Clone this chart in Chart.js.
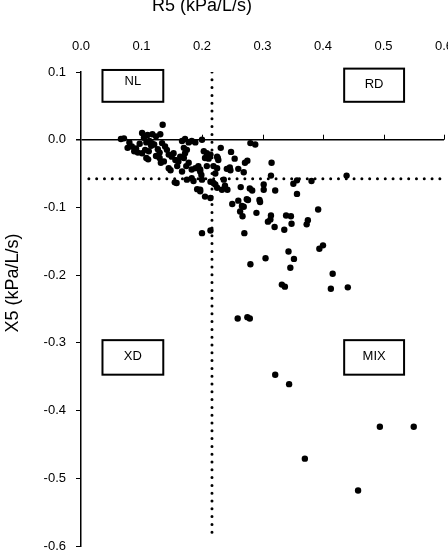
<!DOCTYPE html>
<html>
<head>
<meta charset="utf-8">
<title>R5 / X5</title>
<script src="https://cdn.jsdelivr.net/npm/chart.js@4.4.1/dist/chart.umd.min.js"></script>
<style>
  html, body { margin: 0; padding: 0; background: #fff; }
  #wrap { width: 448px; height: 550px; position: relative; }
</style>
</head>
<body>
<div id="wrap"><canvas id="scatterChart"></canvas></div>
<script>
// axis ticks
const xTicks = [0, 0.1, 0.2, 0.3, 0.4, 0.5, 0.6];
const yTicks = [0.1, 0, -0.1, -0.2, -0.3, -0.4, -0.5, -0.6];
const xTitle = "R5 (kPa/L/s)";
const yTitle = "X5 (kPa/L/s)";

// cut-off values (dotted lines)
const r5Cutoff = 0.2165;
const x5Cutoff = -0.0575;

// quadrant labels
const quadrantLabels = ["NL", "RD", "XD", "MIX"];

// each point: [R5, X5]
const subjects = [
  // R5 below cut-off
  [0.066, 0.001], [0.071, 0.002], [0.080, -0.004], [0.084, -0.010], [0.077, -0.012],
  [0.088, -0.017], [0.091, -0.013], [0.094, -0.019], [0.097, -0.006], [0.101, 0.010],
  [0.110, 0.007], [0.104, 0.003], [0.108, -0.004], [0.113, -0.002], [0.117, -0.005],
  [0.118, 0.008], [0.124, 0.005], [0.131, 0.008], [0.116, -0.009], [0.121, -0.007],
  [0.127, -0.014], [0.130, -0.019], [0.101, -0.020], [0.106, -0.015], [0.112, -0.017],
  [0.108, -0.027], [0.111, -0.029], [0.124, -0.024], [0.130, -0.027], [0.132, -0.034],
  [0.137, -0.032], [0.135, 0.022], [0.134, -0.005], [0.139, -0.010], [0.142, -0.015],
  [0.145, -0.022], [0.150, -0.025], [0.153, -0.020], [0.156, -0.030], [0.161, -0.032],
  [0.145, -0.042], [0.148, -0.045], [0.159, -0.039], [0.167, -0.002], [0.172, 0.001],
  [0.178, -0.004], [0.183, -0.002], [0.189, -0.004], [0.170, -0.012], [0.175, -0.015],
  [0.172, -0.020], [0.164, -0.025], [0.170, -0.027], [0.178, -0.034], [0.174, -0.039],
  [0.167, -0.047], [0.183, -0.044], [0.189, -0.042], [0.194, -0.039], [0.197, -0.047],
  [0.155, -0.063], [0.158, -0.064], [0.175, -0.059], [0.183, -0.057], [0.186, -0.061],
  [0.192, -0.073], [0.197, -0.076],
  // R5 around / above cut-off
  [0.200, 0.000], [0.280, -0.005], [0.288, -0.007], [0.231, -0.012], [0.203, -0.017],
  [0.208, -0.020], [0.248, -0.018], [0.214, -0.022], [0.205, -0.027], [0.211, -0.028],
  [0.226, -0.027], [0.254, -0.028], [0.275, -0.031], [0.315, -0.034], [0.208, -0.039],
  [0.219, -0.039], [0.225, -0.042], [0.241, -0.043], [0.247, -0.045], [0.246, -0.041],
  [0.260, -0.043], [0.269, -0.048], [0.197, -0.044], [0.199, -0.052], [0.222, -0.050],
  [0.314, -0.053], [0.439, -0.053], [0.200, -0.059], [0.214, -0.062], [0.219, -0.064],
  [0.357, -0.060], [0.351, -0.065], [0.381, -0.061], [0.197, -0.074], [0.225, -0.071],
  [0.238, -0.068], [0.242, -0.074], [0.264, -0.070], [0.279, -0.072], [0.283, -0.075],
  [0.302, -0.066], [0.302, -0.074], [0.321, -0.075], [0.357, -0.080], [0.205, -0.084],
  [0.214, -0.086], [0.276, -0.089], [0.295, -0.089], [0.296, -0.092], [0.260, -0.090],
  [0.250, -0.095], [0.269, -0.099], [0.392, -0.103], [0.263, -0.106], [0.267, -0.113],
  [0.290, -0.108], [0.314, -0.112], [0.313, -0.118], [0.309, -0.121], [0.339, -0.112],
  [0.347, -0.113], [0.348, -0.124], [0.375, -0.119], [0.373, -0.125], [0.320, -0.129],
  [0.336, -0.133], [0.200, -0.138], [0.214, -0.134], [0.270, -0.138], [0.400, -0.156],
  [0.394, -0.161], [0.343, -0.165], [0.352, -0.176], [0.305, -0.175], [0.280, -0.184],
  [0.346, -0.189], [0.416, -0.198], [0.332, -0.214], [0.337, -0.217], [0.413, -0.220],
  [0.441, -0.218], [0.259, -0.264], [0.275, -0.262], [0.279, -0.264], [0.321, -0.347],
  [0.344, -0.361], [0.494, -0.424], [0.550, -0.424], [0.370, -0.471], [0.458, -0.518],
  [0.225, -0.025], [0.227, -0.030], [0.222, -0.066], [0.236, -0.059], [0.233, -0.074],
  [0.266, -0.098], [0.274, -0.088], [0.271, -0.034]
];

const FONT = "'Liberation Sans', Arial, sans-serif";

// boxes for the quadrant labels, in axis units: [x0, x1, yTop, yBottom, yText]
const boxPlaces = [
  [0.0355, 0.136, 0.103, 0.056, 0.086],
  [0.435, 0.534, 0.105, 0.056, 0.081],
  [0.0355, 0.136, -0.296, -0.347, -0.320],
  [0.435, 0.534, -0.296, -0.347, -0.320]
];

// axis tick marks on the zero line, boxes and axis titles
const decorPlugin = {
  id: "decor",
  afterDraw(chart) {
    const { ctx } = chart;
    const xs = chart.scales.x;
    const ys = chart.scales.y;
    ctx.save();

    const y0 = ys.getPixelForValue(0);
    ctx.strokeStyle = "#000";
    ctx.lineWidth = 1;
    xTicks.slice(1).forEach((v) => {
      const px = Math.round(xs.getPixelForValue(v)) + 0.5;
      ctx.beginPath();
      ctx.moveTo(px, y0);
      ctx.lineTo(px, y0 - 5);
      ctx.stroke();
    });

    ctx.font = "13px " + FONT;
    ctx.textAlign = "center";
    ctx.textBaseline = "middle";
    boxPlaces.forEach((b, i) => {
      const l = xs.getPixelForValue(b[0]);
      const r = xs.getPixelForValue(b[1]);
      const t = ys.getPixelForValue(b[2]);
      const btm = ys.getPixelForValue(b[3]);
      ctx.fillStyle = "#fff";
      ctx.fillRect(l, t, r - l, btm - t);
      ctx.lineWidth = 2;
      ctx.strokeRect(l, t, r - l, btm - t);
      ctx.fillStyle = "#000";
      ctx.fillText(quadrantLabels[i], (l + r) / 2, ys.getPixelForValue(b[4]));
    });

    ctx.font = "18px " + FONT;
    ctx.textBaseline = "alphabetic";
    ctx.fillText(xTitle, 202, 11);
    ctx.translate(18, 283);
    ctx.rotate(-Math.PI / 2);
    ctx.fillText(yTitle, 0, 0);
    ctx.restore();
  },
};

const ctx = document.getElementById("scatterChart").getContext("2d");

new Chart(ctx, {
  type: "scatter",
  data: {
    datasets: [
      {
        data: subjects.map((p) => ({ x: p[0], y: p[1] })),
        backgroundColor: "#000",
        borderWidth: 0,
        pointRadius: 3.2,
      },
      {
        data: [
          { x: r5Cutoff, y: 0.1 },
          { x: r5Cutoff, y: -0.59 },
        ],
        showLine: true,
        pointRadius: 0,
        borderColor: "#000",
        borderWidth: 3,
        borderDash: [0, 7.8],
        borderCapStyle: "round",
      },
      {
        data: [
          { x: 0.013, y: x5Cutoff },
          { x: 0.594, y: x5Cutoff },
        ],
        showLine: true,
        pointRadius: 0,
        borderColor: "#000",
        borderWidth: 3,
        borderDash: [0, 7.8],
        borderCapStyle: "round",
      },
    ],
  },
  options: {
    responsive: true,
    maintainAspectRatio: false,
    animation: false,
    layout: { padding: { left: 0, top: 0, right: 4, bottom: 4 } },
    plugins: {
      legend: { display: false },
      tooltip: { enabled: false },
    },
    scales: {
      x: {
        type: "linear",
        position: "top",
        min: 0,
        max: 0.6,
        afterBuildTicks: (s) => {
          s.ticks = xTicks.map((v) => ({ value: v }));
        },
        afterFit: (s) => {
          s.height = 72;
          s.paddingLeft = 0;
          s.paddingRight = 0;
        },
        grid: { display: false },
        border: { display: false },
        ticks: {
          padding: 10,
          color: "#000",
          font: { size: 13, family: FONT },
          maxRotation: 0,
          callback: (v) => v.toFixed(1),
        },
      },
      y: {
        type: "linear",
        min: -0.6,
        max: 0.1,
        afterBuildTicks: (s) => {
          s.ticks = yTicks.map((v) => ({ value: v }));
        },
        afterFit: (s) => {
          s.width = 81;
          s.paddingTop = 0;
          s.paddingBottom = 0;
        },
        border: { display: true, color: "#000", width: 1.5 },
        grid: {
          drawOnChartArea: true,
          drawTicks: true,
          tickLength: 5,
          tickColor: "#000",
          color: (c) => (c.tick && c.tick.value === 0 ? "#000" : "rgba(0,0,0,0)"),
          lineWidth: (c) => (c.tick && c.tick.value === 0 ? 1.5 : 1),
        },
        ticks: {
          padding: 10,
          color: "#000",
          font: { size: 13, family: FONT },
          callback: (v) => v.toFixed(1),
        },
      },
    },
  },
  plugins: [decorPlugin],
});
</script>
</body>
</html>
